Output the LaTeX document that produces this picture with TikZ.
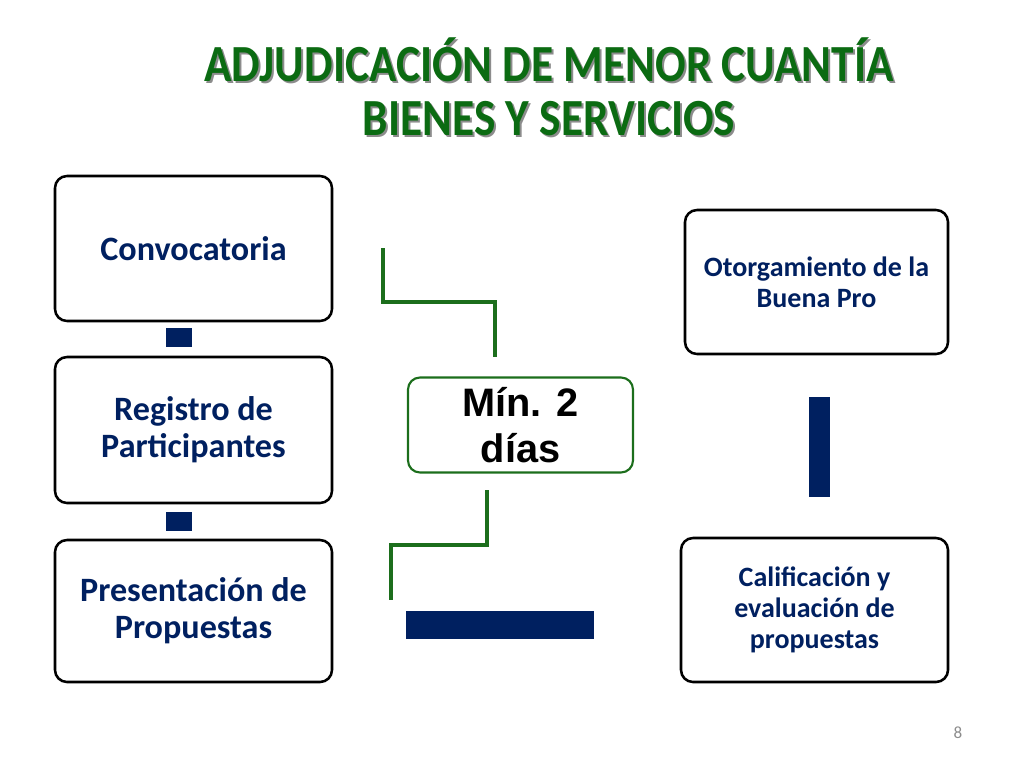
\documentclass[tikz,border=0pt]{standalone}
\usepackage{fontspec}
\setmainfont{Carlito}
\newfontfamily\arialfont{Liberation Sans}
\usetikzlibrary{positioning}
\definecolor{titlegreen}{HTML}{0B6B12}
\definecolor{navyblock}{HTML}{002060}
\definecolor{linegreen}{HTML}{1C6E1C}
\definecolor{pagegray}{HTML}{8C8C8C}

\begin{document}
\begin{tikzpicture}[
    x=0.75pt, y=-0.75pt,
    stepbox/.style={
        rectangle,
        rounded corners=9pt,
        draw=black,
        line width=1.9pt,
        fill=white,
        align=center,
        text=navyblock,
        font=\bfseries\fontsize{25.6}{28}\selectfont
    },
    smalltext/.style={font=\bfseries\fontsize{21}{23.5}\selectfont},
    daysbox/.style={
        rectangle,
        rounded corners=9pt,
        draw=linegreen,
        line width=1.6pt,
        align=center,
        font=\arialfont\bfseries\fontsize{29.8}{35}\selectfont
    },
    block/.style={rectangle, fill=navyblock, inner sep=0pt},
    bracket/.style={draw=linegreen, line width=2.3pt},
    titletext/.style={align=center, yscale=1.15, transform shape,
        font=\bfseries\fontsize{34}{35.2}\selectfont}
]
\useasboundingbox (0,0) rectangle (1024,768);

% title with shadow
\node[titletext, text=black!45] (titleshadow) at (551,89)
{ADJUDICACIÓN DE MENOR CUANTÍA\\BIENES Y SERVICIOS};
\node[titletext, text=titlegreen] (title) at (549,87)
{ADJUDICACIÓN DE MENOR CUANTÍA\\BIENES Y SERVICIOS};

% left column
\node[stepbox, minimum width=207.75pt, minimum height=108.75pt] (conv) at (193.5,248.5)
{Convocatoria};
\node[stepbox, minimum width=207.75pt, minimum height=109.5pt] (reg) at (193.5,430)
{Registro de\\Participantes};
\node[stepbox, minimum width=207.75pt, minimum height=106.5pt] (prop) at (193.5,611)
{Presentación de\\Propuestas};

% right column
\node[stepbox, smalltext, minimum width=197.25pt, minimum height=108pt] (buenapro) at (816.5,282)
{Otorgamiento de la\\Buena Pro};
\node[stepbox, smalltext, minimum width=200.25pt, minimum height=108pt] (calif) at (814.5,610)
{Calificación y\\evaluación de\\propuestas};

% middle
\node[daysbox, minimum width=168.75pt, minimum height=71.25pt] (dias) at (520.5,425)
{Mín. 2\\días};

% connector blocks
\node[block, minimum width=19.5pt, minimum height=14.25pt] (blockA) at (179,337.5) {};
\node[block, minimum width=19.5pt, minimum height=14.25pt] (blockB) at (179,521.5) {};
\node[block, minimum width=15.75pt, minimum height=75pt] (blockC) at (819.5,447) {};
\node[block, minimum width=141pt, minimum height=21pt] (blockD) at (500,625) {};

% green brackets
\coordinate (topstart) at (383,248);
\coordinate (topend) at (495,357);
\coordinate (botstart) at (487,490);
\coordinate (botend) at (391,600);
\draw[bracket] (topstart) |- (495,302) -- (topend);
\draw[bracket] (botstart) |- (391,545) -- (botend);

% page number
\node[text=pagegray, font=\fontsize{12.8}{15}\selectfont] (pagenum) at (958,733) {8};

\end{tikzpicture}
\end{document}
